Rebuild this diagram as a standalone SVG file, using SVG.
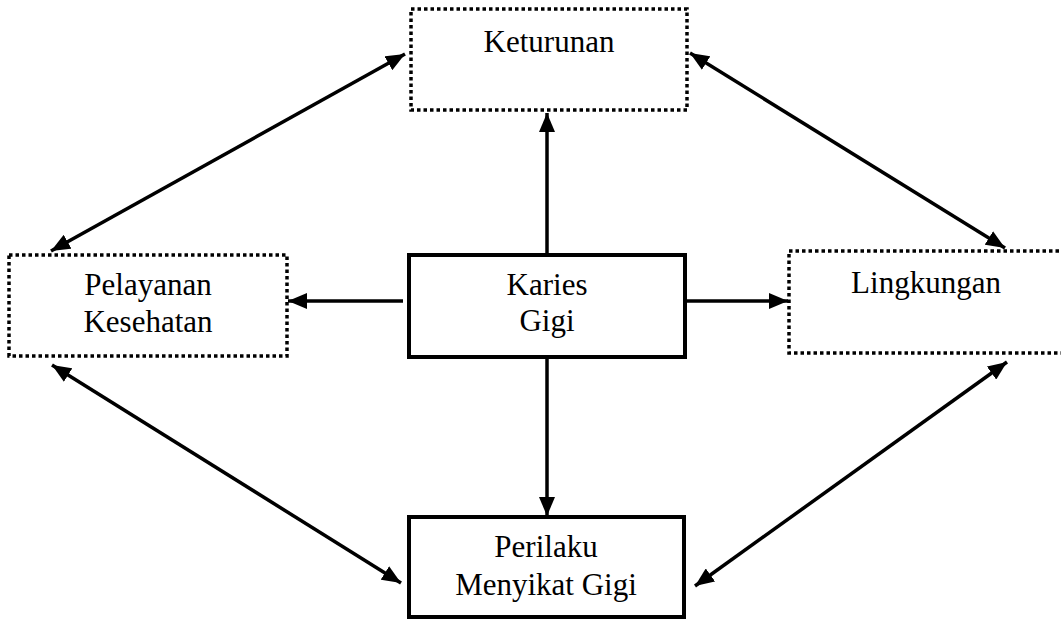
<svg xmlns="http://www.w3.org/2000/svg" width="1061" height="619" viewBox="0 0 1061 619">
<style>
.dot{fill:#fff;stroke:#000;stroke-width:3.5;stroke-dasharray:3.5 3}
.solid{fill:#fff;stroke:#000;stroke-width:4}
.lbl{font-family:"Liberation Serif","Times New Roman",serif;font-size:31px;fill:#000;text-anchor:middle}
.conn{stroke:#000;stroke-width:3.5;fill:none}
</style>
<defs>
<marker id="ah" markerUnits="userSpaceOnUse" markerWidth="20" markerHeight="16" refX="19" refY="8" orient="auto-start-reverse">
<path d="M0,0 L19,8 L0,16 z" fill="#000"/>
</marker>
</defs>
<g id="connectors">
<line class="conn" x1="547" y1="255" x2="547" y2="113" marker-end="url(#ah)"/>
<line class="conn" x1="547" y1="357" x2="547" y2="516" marker-end="url(#ah)"/>
<line class="conn" x1="403" y1="301" x2="288" y2="301" marker-end="url(#ah)"/>
<line class="conn" x1="687" y1="301" x2="788" y2="301" marker-end="url(#ah)"/>
<line class="conn" x1="405" y1="54" x2="51" y2="251" marker-start="url(#ah)" marker-end="url(#ah)"/>
<line class="conn" x1="690" y1="53" x2="1005" y2="248" marker-start="url(#ah)" marker-end="url(#ah)"/>
<line class="conn" x1="52" y1="365" x2="401" y2="583" marker-start="url(#ah)" marker-end="url(#ah)"/>
<line class="conn" x1="1007" y1="362" x2="695" y2="586" marker-start="url(#ah)" marker-end="url(#ah)"/>
</g>
<g id="keturunan">
<rect class="dot" x="411" y="9" width="276" height="101"/>
<text class="lbl" x="549" y="52">Keturunan</text>
</g>
<g id="pelayanan">
<rect class="dot" x="9" y="255" width="278" height="101"/>
<text class="lbl" x="148" y="295">Pelayanan</text>
<text class="lbl" x="148" y="332">Kesehatan</text>
</g>
<g id="lingkungan">
<rect class="dot" x="789" y="251" width="275" height="102"/>
<text class="lbl" x="926" y="293">Lingkungan</text>
</g>
<g id="karies">
<rect class="solid" x="409" y="255" width="276" height="102"/>
<text class="lbl" x="547" y="295">Karies</text>
<text class="lbl" x="547" y="331">Gigi</text>
</g>
<g id="perilaku">
<rect class="solid" x="409" y="517" width="275" height="100"/>
<text class="lbl" x="546" y="557">Perilaku</text>
<text class="lbl" x="546" y="595">Menyikat Gigi</text>
</g>
</svg>
